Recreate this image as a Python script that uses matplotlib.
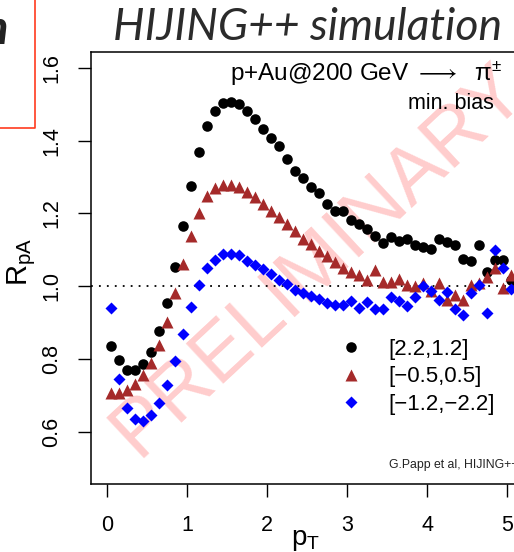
import numpy as np
import matplotlib
matplotlib.use("Agg")
import matplotlib.pyplot as plt
from matplotlib.lines import Line2D

plt.rcParams['font.family'] = ['Liberation Sans', 'DejaVu Sans']
plt.rcParams['mathtext.fontset'] = 'custom'
plt.rcParams['mathtext.rm'] = 'Liberation Sans'
plt.rcParams['mathtext.it'] = 'Liberation Sans:italic'

## pT bin centres and R_pA for the three rapidity windows
pt = [0.05, 0.15, 0.25, 0.35, 0.45, 0.55, 0.65, 0.75, 0.85, 0.95,
      1.05, 1.15, 1.25, 1.35, 1.45, 1.55, 1.65, 1.75, 1.85, 1.95,
      2.05, 2.15, 2.25, 2.35, 2.45, 2.55, 2.65, 2.75, 2.85, 2.95,
      3.05, 3.15, 3.25, 3.35, 3.45, 3.55, 3.65, 3.75, 3.85, 3.95,
      4.05, 4.15, 4.25, 4.35, 4.45, 4.55, 4.65, 4.75, 4.85, 4.95,
      5.05]

rpa_fwd = [0.835, 0.797, 0.769, 0.769, 0.786, 0.819, 0.876, 0.953, 1.053, 1.166,
           1.276, 1.368, 1.440, 1.481, 1.504, 1.507, 1.502, 1.482, 1.461, 1.433,
           1.408, 1.385, 1.349, 1.317, 1.298, 1.273, 1.256, 1.227, 1.207, 1.207,
           1.181, 1.172, 1.156, 1.137, 1.119, 1.135, 1.124, 1.130, 1.112, 1.108,
           1.102, 1.130, 1.121, 1.112, 1.075, 1.070, 1.113, 1.038, 1.071, 1.071,
           1.016]

rpa_mid = [0.705, 0.705, 0.714, 0.731, 0.755, 0.789, 0.838, 0.902, 0.980, 1.062,
           1.137, 1.201, 1.247, 1.270, 1.277, 1.277, 1.273, 1.259, 1.244, 1.227,
           1.207, 1.190, 1.172, 1.152, 1.131, 1.117, 1.097, 1.082, 1.067, 1.049,
           1.039, 1.030, 1.018, 1.044, 1.012, 1.012, 1.021, 1.004, 1.001, 1.010,
           0.988, 1.010, 0.962, 0.975, 0.961, 1.004, 1.010, 1.024, 1.049, 0.995,
           1.032]

rpa_bwd = [0.939, 0.746, 0.664, 0.634, 0.630, 0.646, 0.678, 0.728, 0.795, 0.868,
           0.943, 1.003, 1.050, 1.073, 1.088, 1.088, 1.085, 1.069, 1.059, 1.046,
           1.034, 1.016, 1.007, 0.989, 0.981, 0.974, 0.965, 0.954, 0.947, 0.949,
           0.958, 0.941, 0.956, 0.936, 0.938, 0.971, 0.960, 0.946, 0.970, 1.000,
           0.986, 0.961, 0.985, 0.936, 0.922, 0.982, 1.003, 0.926, 1.099, 1.049,
           0.991]

labels = ['[2.2,1.2]', '[\u22120.5,0.5]', '[\u22121.2,\u22122.2]']
xticks = [0, 1, 2, 3, 4, 5]
yticks = [0.6, 0.8, 1.0, 1.2, 1.4, 1.6]

W, H = 514, 552
fig = plt.figure(figsize=(W / 100, H / 100), dpi=100)

# axes box runs past the right edge (the reference is a crop)
ax = fig.add_axes([91 / W, (H - 484) / H, 432 / W, 432 / H])
ax.set_xlim(-0.2, 5.2)
ax.set_ylim(0.456, 1.644)

## watermark behind the points
ax.text(2.64, 1.07, 'PRELIMINARY', fontsize=57, color='red', alpha=0.2,
        rotation=43, ha='center', va='center', zorder=0)

ax.axhline(1.0, color='black', lw=1.3, linestyle=(0, (1, 3.4)), zorder=1)

ax.plot(pt, rpa_fwd, 'o', color='black', ms=7.6, mec='none', label=labels[0], zorder=3)
ax.plot(pt, rpa_mid, '^', color='#a52a2a', ms=9, mec='none', label=labels[1], zorder=3)
ax.plot(pt, rpa_bwd, 'D', color='#0000ff', ms=5.8, mec='none', label=labels[2], zorder=3)

ax.set_xticks(xticks)
ax.set_xticklabels([str(v) for v in xticks])
ax.set_yticks(yticks)
ax.set_yticklabels(['%.1f' % v for v in yticks], rotation=90, va='center')
ax.tick_params(axis='both', direction='out', length=9.5, width=1.0, labelsize=15.5)
ax.tick_params(axis='x', pad=13)
ax.tick_params(axis='y', pad=11)
for s in ax.spines.values():
    s.set_linewidth(1.1)

ax.text(4.93, 1.585, 'p+Au@200 GeV $\\longrightarrow$  \u03c0$^{\\pm}$', fontsize=17.5,
        ha='right', va='center')
ax.text(4.83, 1.503, 'min. bias', fontsize=15.5, ha='right', va='center')
ax.text(3.52, 0.507, 'G.Papp et al, HIJING++ simulation', fontsize=8.8,
        color='#222222', ha='left', va='center')

leg = ax.legend(loc='upper left', bbox_to_anchor=(0.555, 0.357), frameon=False,
                fontsize=16, handlelength=1.0, handletextpad=1.2, labelspacing=0.3,
                borderaxespad=0)

fig.text(22 / W, 1 - 262 / H, 'R$_{\\rm pA}$', fontsize=21, rotation=90,
         ha='center', va='center')
fig.text(306 / W, 1 - 540 / H, 'p$_{\\rm T}$', fontsize=20, ha='center', va='center')

## slide decorations above the plot
fig.text(308 / W, 1 - 40 / H, 'HIJING++ simulation', fontsize=32, style='italic',
         family=['Lato', 'DejaVu Sans'], color='#2b2b2b', ha='center', va='baseline')
fig.text(8 / W, 1 - 44 / H, 'n', fontsize=34, style='italic', weight='bold',
         family=['Lato', 'DejaVu Sans'], color='#222222', ha='right', va='baseline')
fig.add_artist(Line2D([35 / W, 35 / W, 0], [1, 1 - 128 / H, 1 - 128 / H],
                      transform=fig.transFigure, color='#ff3b1f', lw=1.2))

plt.savefig('out.png', dpi=100)
